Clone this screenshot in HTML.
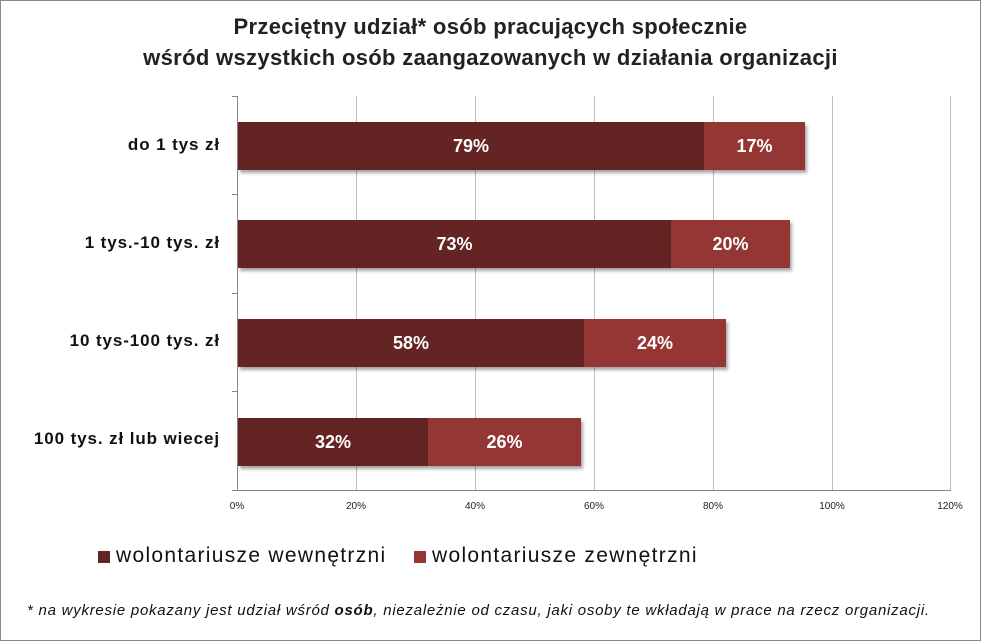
<!DOCTYPE html>
<html><head><meta charset="utf-8"><style>
body{margin:0;background:#fff;}
.c{position:relative;width:979px;height:639px;border:1px solid #8a8a8a;font-family:"Liberation Sans",sans-serif;overflow:hidden;background:#fff}
.t{position:absolute;left:0;width:979px;text-align:center;font-weight:bold;font-size:22px;letter-spacing:0.33px;color:#222}
.g{position:absolute;top:95px;height:394px;width:1px;background:#c0c0c0}
.b{position:absolute;height:48px;color:#fff;font-weight:bold;font-size:18px;line-height:48px;text-align:center;box-shadow:2px 3px 3px rgba(0,0,0,0.35)}
.d{background:#632423}.l{background:#943634}
.cat{position:absolute;right:760px;font-size:17px;letter-spacing:0.9px;font-weight:bold;color:#111;text-align:right;white-space:nowrap}
.tk{position:absolute;top:500px;font-size:10px;color:#222;width:40px;text-align:center}
.ytk{position:absolute;left:231px;width:5px;height:1px;background:#888}
.lg{position:absolute;top:543px;font-size:21px;letter-spacing:1.3px;color:#111}
</style></head><body><div class="c">
<div class="t" style="top:13px">Przeciętny udział* osób pracujących społecznie</div>
<div class="t" style="top:44px">wśród wszystkich osób zaangazowanych w działania organizacji</div>
<div class="g" style="left:355px"></div><div class="g" style="left:474px"></div><div class="g" style="left:593px"></div><div class="g" style="left:712px"></div><div class="g" style="left:831px"></div><div class="g" style="left:949px"></div>
<div style="position:absolute;left:236px;top:95px;width:1px;height:395px;background:#888"></div>
<div style="position:absolute;left:231px;top:489px;width:719px;height:1px;background:#888"></div>
<div class="ytk" style="top:95px"></div><div class="ytk" style="top:193px"></div><div class="ytk" style="top:292px"></div><div class="ytk" style="top:390px"></div><div class="ytk" style="top:489px"></div>
<div class="cat" style="top:134px">do 1 tys zł</div>
<div class="cat" style="top:232px">1 tys.-10 tys. zł</div>
<div class="cat" style="top:330px">10 tys-100 tys. zł</div>
<div class="cat" style="top:428px">100 tys. zł lub wiecej</div>
<div class="b d" style="left:237px;top:121px;width:466px">79%</div><div class="b l" style="left:703px;top:121px;width:101px">17%</div>
<div class="b d" style="left:237px;top:219px;width:433px">73%</div><div class="b l" style="left:670px;top:219px;width:119px">20%</div>
<div class="b d" style="left:237px;top:318px;width:346px">58%</div><div class="b l" style="left:583px;top:318px;width:142px">24%</div>
<div class="b d" style="left:237px;top:417px;width:190px">32%</div><div class="b l" style="left:427px;top:417px;width:153px">26%</div>
<div class="tk" style="left:216px">0%</div><div class="tk" style="left:335px">20%</div><div class="tk" style="left:454px">40%</div><div class="tk" style="left:573px">60%</div><div class="tk" style="left:692px">80%</div><div class="tk" style="left:811px">100%</div><div class="tk" style="left:929px">120%</div>
<div style="position:absolute;left:97px;top:550px;width:12px;height:12px;background:#632423"></div>
<div class="lg" style="left:115px">wolontariusze wewnętrzni</div>
<div style="position:absolute;left:413px;top:550px;width:12px;height:12px;background:#943634"></div>
<div class="lg" style="left:431px">wolontariusze zewnętrzni</div>
<div style="position:absolute;left:26px;top:601px;font-size:15px;letter-spacing:0.75px;font-style:italic;color:#111;white-space:nowrap">* na wykresie pokazany jest udział wśród <b>osób</b>, niezależnie od czasu, jaki osoby te wkładają w prace na rzecz organizacji.</div>
</div></body></html>
